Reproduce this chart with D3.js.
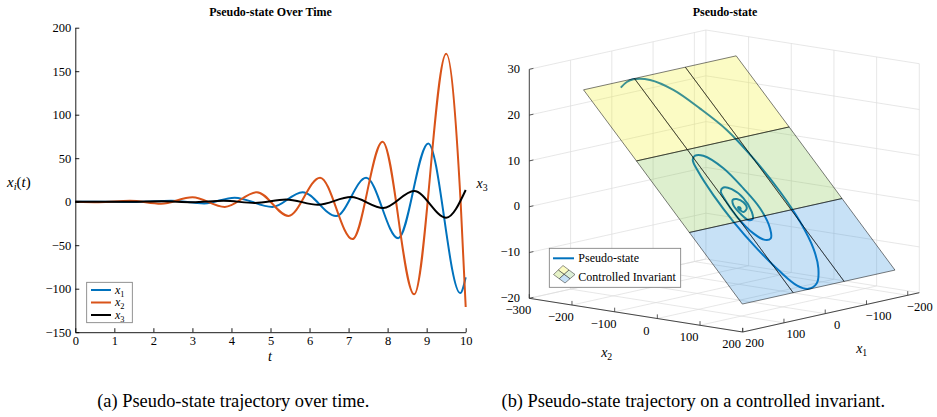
<!DOCTYPE html>
<html>
<head>
<meta charset="utf-8">
<script src="https://cdn.jsdelivr.net/npm/d3@7"></script>
<style>
  body { margin: 0; background: #fff; }
  svg text { font-family: "Liberation Serif", "Times New Roman", serif; fill: #000; }
</style>
</head>
<body>
<div id="chart"></div>
<script>
// ---- left panel: extrema of each state ----
const x1T = [0, 1.6, 2.45, 3.3, 4.08, 5.05, 5.82, 6.68, 7.45, 8.27, 9.04, 9.86, 10];
const x1V = [0, -0.4, 1.2, -2, 4.6, -6, 11, -16.5, 27.5, -42, 67, -105, -87];
const x2T = [0, 0.6, 1.4, 2.2, 3.0, 3.83, 4.65, 5.46, 6.27, 7.1, 7.87, 8.68, 9.5, 9.87, 10];
const x2V = [0, -0.5, 1, -2.4, 5, -6, 11, -16.3, 27.6, -43, 69, -106.5, 170, 0, -121];
const x3T = [0, 1.4, 2.2, 3.0, 3.8, 4.6, 5.4, 6.22, 7.06, 7.89, 8.68, 9.5, 10];
const x3V = [0, -0.2, 0.4, -0.6, 1.0, -1.4, 2.5, -3.5, 5.3, -7.2, 12.3, -18.4, 13.5];
const seriesNames = ["1", "2", "3"];
const seriesColors = ["#0072BD", "#D95319", "#000000"];
const tTicks = [0, 1, 2, 3, 4, 5, 6, 7, 8, 9, 10];
const yTicks = [-150, -100, -50, 0, 50, 100, 150, 200];

// ---- right panel: trajectory (from the centre outwards) and the invariant ----
const trajX1 = [0, -1.5, -1.5, 1.5, 2.8, -2.4, -14.7, -16.9, -8.1, 1.7, 8.1, 7, 0, -10.6, -19.9, -23, -13.2, 2.2, 12.7, 17.7, 19.1, 10.1, -3.8, -18.3, -32.3, -42.3, -38.4, -27.7, -5.4, 11.8, 23.2, 29.7, 34.3, 33.9, 26.2, 13.8, -0.4, -18.4, -44.7, -71.2, -91.6, -104.9, -109.6, -105.5, -93.7, -71.7, -44.3, -11.2, 21.9, 39.9, 61.6];
const trajX2 = [0, 0.5, -1.5, -2.5, -0.8, 6, 2, -8, -15.2, -15.1, -7.4, 7.3, 19.9, 19.9, 8.7, -14, -31.8, -36.5, -32.4, -17.6, 11.2, 41.5, 55.3, 54.6, 39.5, 6.4, -28.9, -65.4, -90.8, -93.6, -87.9, -68.6, -28.9, 17.5, 64.9, 107.5, 132.9, 142.6, 137, 115.1, 83.7, 39.7, -11.7, -70.3, -121.3, -162.5, -198.7, -221.3, -228.3, -226.4, -219.5];
const trajX3 = [0, -0.1, 0.2, 0.3, 0.1, -0.7, -0.2, 0.9, 1.7, 1.7, 0.8, -0.8, -2.2, -2.2, -1.0, 1.6, 3.5, 4.1, 3.6, 2.0, -1.2, -4.6, -6.1, -6.1, -4.4, -0.7, 3.2, 7.3, 10.1, 10.4, 9.8, 7.6, 3.2, -1.9, -7.2, -11.9, -14.8, -15.8, -15.2, -12.8, -9.3, -4.4, 1.3, 7.8, 13.5, 18.0, 22.1, 24.6, 25.3, 25.1, 24.4];
const planeX1 = [-228, -104.7, 18.7, 142];
const planeX2 = [-229, -105, 19, 143];
const planeX3 = [25.4, 11.7, -2.1, -15.9]; // height at each x2 edge
const bandFill = ["rgb(240,240,20)", "rgb(120,190,60)", "rgb(30,135,220)"];
const x1Ticks = [-200, -100, 0, 100, 200];
const x2Ticks = [-300, -200, -100, 0, 100, 200];
const x3Ticks = [-20, -10, 0, 10, 20, 30];

const W = 937, H = 417;
const svg = d3.select("#chart").append("svg")
  .attr("width", W).attr("height", H)
  .style("background", "#fff");
const fmt = d3.format("d");
const tickFont = 12.5;

// subscripted math label: italic base + small subscript (+ optional tail)
function mathText(g, x, y, base, sub, size, anchor, tail) {
  const t = g.append("text").attr("x", x).attr("y", y)
    .attr("font-size", size).attr("text-anchor", anchor || "start");
  t.append("tspan").attr("font-style", "italic").text(base);
  t.append("tspan").attr("font-size", size * 0.7).attr("dy", size * 0.25)
    .attr("font-style", isNaN(+sub) ? "italic" : "normal").text(sub);
  if (tail) {
    const r = t.append("tspan").attr("dy", -size * 0.25);
    r.append("tspan").text("(");
    r.append("tspan").attr("font-style", "italic").text(tail);
    r.append("tspan").text(")");
  }
  return t;
}

// ================= left panel =================
const xS = d3.scaleLinear().domain([0, 10]).range([75.3, 465.7]);
const yS = d3.scaleLinear().domain([-150, 200]).range([332.2, 27.7]);
const L = svg.append("g");

const line = d3.line().x(d => xS(d[0])).y(d => yS(d[1])).curve(d3.curveMonotoneX);
[[x1T, x1V], [x2T, x2V], [x3T, x3V]].forEach((s, i) => {
  L.append("path")
    .datum(s[0].map((t, j) => [t, s[1][j]]))
    .attr("d", line)
    .attr("fill", "none")
    .attr("stroke", seriesColors[i])
    .attr("stroke-width", 2);
});

const xAx = L.append("g").attr("transform", `translate(0,${yS(-150)})`)
  .call(d3.axisBottom(xS).tickValues(tTicks).tickFormat(fmt).tickSize(-4).tickSizeOuter(0).tickPadding(4));
const yAx = L.append("g").attr("transform", `translate(${xS(0)},0)`)
  .call(d3.axisLeft(yS).tickValues(yTicks).tickFormat(fmt).tickSize(-4).tickSizeOuter(0).tickPadding(4));
[xAx, yAx].forEach(a => {
  a.attr("font-size", tickFont).attr("font-family", "Liberation Serif, serif");
  a.selectAll("path,line").attr("stroke", "#000").attr("stroke-width", 0.9);
});

L.append("text").attr("x", 270.5).attr("y", 16).attr("text-anchor", "middle")
  .attr("font-size", 12).attr("font-weight", "bold").text("Pseudo-state Over Time");
L.append("text").attr("x", 270).attr("y", 361).attr("text-anchor", "middle")
  .attr("font-size", 14).attr("font-style", "italic").text("t");
mathText(L, 7, 186.5, "x", "i", 15, "start", "t");

// legend
const lg = L.append("g");
lg.append("rect").attr("x", 86.7).attr("y", 282.3).attr("width", 45.6).attr("height", 40.4)
  .attr("fill", "#fff").attr("stroke", "#777").attr("stroke-width", 0.8);
seriesNames.forEach((n, i) => {
  const yy = 290 + i * 12.5;
  lg.append("line").attr("x1", 91).attr("x2", 111).attr("y1", yy).attr("y2", yy)
    .attr("stroke", seriesColors[i]).attr("stroke-width", 2);
  mathText(lg, 115, yy + 3.5, "x", n, 12, "start");
});

svg.append("text").attr("x", 233.3).attr("y", 407.4).attr("text-anchor", "middle")
  .attr("font-size", 18.4).text("(a) Pseudo-state trajectory over time.");

// ================= right panel (3D) =================
const f1 = d3.scaleLinear().domain([200, -228]).range([0, 1]);
const f2 = d3.scaleLinear().domain([-300, 200]).range([0, 1]);
const f3 = d3.scaleLinear().domain([-20, 30]).range([0, 1]);
const c0 = [529.3, 298.3], v1 = [176.6, -39.3], v2 = [213.4, 33.7], v3 = [0, -229];
function proj(a, b, c) {
  const u = f1(a), v = f2(b), w = f3(c);
  return [c0[0] + u * v1[0] + v * v2[0] + w * v3[0], c0[1] + u * v1[1] + v * v2[1] + w * v3[1]];
}
const R = svg.append("g");
function seg(g, p, q, col, w) {
  g.append("line").attr("x1", p[0]).attr("y1", p[1]).attr("x2", q[0]).attr("y2", q[1])
    .attr("stroke", col).attr("stroke-width", w);
}

// grid on the two back walls and the floor
const grid = R.append("g");
const gc = "#dcdcdc", gw = 0.7;
const x1Min = f1.domain()[1], x1Max = f1.domain()[0];
x1Ticks.forEach(a => {
  seg(grid, proj(a, -300, -20), proj(a, -300, 30), gc, gw);
  seg(grid, proj(a, -300, -20), proj(a, 200, -20), gc, gw);
});
x2Ticks.forEach(b => {
  seg(grid, proj(x1Min, b, -20), proj(x1Min, b, 30), gc, gw);
  seg(grid, proj(x1Max, b, -20), proj(x1Min, b, -20), gc, gw);
});
x3Ticks.forEach(c => {
  seg(grid, proj(x1Max, -300, c), proj(x1Min, -300, c), gc, gw);
  seg(grid, proj(x1Min, -300, c), proj(x1Min, 200, c), gc, gw);
});

// axis lines + ticks + labels
const ac = "#333";
seg(R, proj(x1Max, -300, -20), proj(x1Max, -300, 30), ac, 0.9);
seg(R, proj(x1Max, -300, -20), proj(x1Max, 200, -20), ac, 0.9);
seg(R, proj(x1Max, 200, -20), proj(x1Min, 200, -20), ac, 0.9);
x3Ticks.forEach(c => {
  const p = proj(x1Max, -300, c);
  seg(R, p, proj(x1Max - 10, -300, c), ac, 0.8);
  R.append("text").attr("x", p[0] - 9.3).attr("y", p[1] + 3.6).attr("text-anchor", "end")
    .attr("font-size", tickFont).text(fmt(c));
});
x2Ticks.forEach(b => {
  const p = proj(x1Max, b, -20);
  seg(R, p, proj(x1Max, b, -19.1), ac, 0.8);
  R.append("text").attr("x", p[0] - 11).attr("y", p[1] + 16).attr("text-anchor", "middle")
    .attr("font-size", tickFont).text(fmt(b));
});
x1Ticks.forEach(a => {
  const p = proj(a, 200, -20);
  seg(R, p, proj(a, 200, -19.1), ac, 0.8);
  R.append("text").attr("x", p[0] + 12).attr("y", p[1] + 15.3).attr("text-anchor", "middle")
    .attr("font-size", tickFont).text(fmt(a));
});
mathText(R, 606.7, 356.5, "x", "2", 14, "middle");
mathText(R, 861.7, 352.5, "x", "1", 14, "middle");
mathText(R, 476.5, 187.5, "x", "3", 14, "start");
R.append("text").attr("x", 725).attr("y", 16).attr("text-anchor", "middle")
  .attr("font-size", 12).attr("font-weight", "bold").text("Pseudo-state");

// trajectory (under the translucent invariant)
const traj = trajX1.map((a, i) => proj(a, trajX2[i], trajX3[i]));
R.append("path").datum(traj)
  .attr("d", d3.line().curve(d3.curveCatmullRom.alpha(0.5)))
  .attr("fill", "none").attr("stroke", "#0072BD").attr("stroke-width", 2);

// controlled invariant: 3 x 3 cells, coloured by x2 band
const cells = R.append("g");
for (let j = 0; j < 3; j++) {
  for (let i = 0; i < 3; i++) {
    const pts = [
      proj(planeX1[i], planeX2[j], planeX3[j]),
      proj(planeX1[i + 1], planeX2[j], planeX3[j]),
      proj(planeX1[i + 1], planeX2[j + 1], planeX3[j + 1]),
      proj(planeX1[i], planeX2[j + 1], planeX3[j + 1])
    ];
    cells.append("path").attr("d", "M" + pts.join("L") + "Z")
      .attr("fill", bandFill[j]).attr("fill-opacity", 0.25)
      .attr("stroke", "#000").attr("stroke-width", 0.6).attr("stroke-opacity", 0.85);
  }
}

// legend
const lg3 = R.append("g");
lg3.append("rect").attr("x", 549.3).attr("y", 248.3).attr("width", 131.4).attr("height", 39)
  .attr("fill", "#fff").attr("stroke", "#777").attr("stroke-width", 0.8);
lg3.append("line").attr("x1", 553).attr("x2", 574).attr("y1", 258.3).attr("y2", 258.3)
  .attr("stroke", "#0072BD").attr("stroke-width", 2);
lg3.append("text").attr("x", 578.3).attr("y", 262.3).attr("font-size", 12).text("Pseudo-state");
lg3.append("text").attr("x", 578.3).attr("y", 281).attr("font-size", 12).text("Controlled Invariant");
// small patch icon (2 x 2 quad)
const qL = [553.5, 274.5], qT = [563, 265.5], qR = [575, 274.5], qB = [565, 283];
const mix = (p, q, s) => [p[0] + (q[0] - p[0]) * s, p[1] + (q[1] - p[1]) * s];
function quadPt(s, r) { return mix(mix(qT, qR, s), mix(qL, qB, s), r); }
const iconCols = [["#fbfbc3", "#ddefd7"], ["#e6f3c8", "#c6e1f6"]];
for (let a = 0; a < 2; a++) {
  for (let b = 0; b < 2; b++) {
    const pts = [quadPt(a / 2, b / 2), quadPt((a + 1) / 2, b / 2), quadPt((a + 1) / 2, (b + 1) / 2), quadPt(a / 2, (b + 1) / 2)];
    lg3.append("path").attr("d", "M" + pts.join("L") + "Z")
      .attr("fill", iconCols[b][a]).attr("stroke", "#222").attr("stroke-width", 0.5);
  }
}

svg.append("text").attr("x", 693.3).attr("y", 407.4).attr("text-anchor", "middle")
  .attr("font-size", 18.4).text("(b) Pseudo-state trajectory on a controlled invariant.");
</script>
</body>
</html>
